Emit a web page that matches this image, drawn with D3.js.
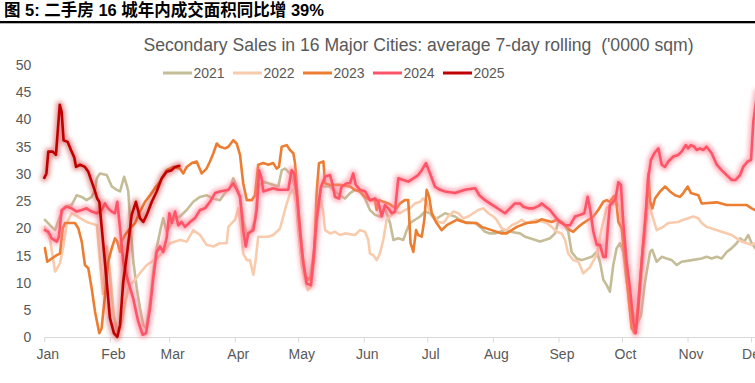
<!DOCTYPE html>
<html><head><meta charset="utf-8">
<script src="https://cdn.jsdelivr.net/npm/d3@7/dist/d3.min.js"></script>
<style>body{margin:0;background:#fff;}svg{display:block;}</style>
</head><body>
<svg id="c" width="755" height="383"></svg>
<script>
// ---------- data ----------
const figTitle = "图 5: 二手房 16 城年内成交面积同比增 39%";
const chartTitle = "Secondary Sales in 16 Major Cities: average 7-day rolling  ('0000 sqm)";
const months = ["Jan","Feb","Mar","Apr","May","Jun","Jul","Aug","Sep","Oct","Nov","Dec"];
const monthStarts = [0,31,59,90,120,151,181,212,243,273,304,334]; // day of year
const yTickValues = [0,5,10,15,20,25,30,35,40,45,50];
const seriesNames = ["2021","2022","2023","2024","2025"];
const seriesColors = ["#c5bd98","#f8cbad","#ed7d31","#ff5468","#c00000"];

// [day of year, value ('0000 sqm)]
const s2021 = [[0.3,21.6],[2.7,20.6],[5.1,19.7],[7.4,22.2],[9.8,24],[12.9,24.3],[15.3,26.1],[17.7,25.8],[20,25.2],[22.4,25.8],[24,27.1],[24.8,29.2],[26.3,30.1],[29.5,29.8],[31.9,27.7],[34.2,27.1],[35.8,26.8],[37.7,29.5],[38.9,28],[39.7,26.8],[40.8,20],[42.1,13.9],[43.7,9],[45.2,5.4],[46.8,2.3],[48.1,1.7],[50,6.6],[51.5,12.1],[53.1,16.4],[55,20],[56.2,21.9],[57.8,19.4],[59.4,20.3],[61,21.6],[64.1,22.2],[67.3,23.4],[70.4,24.9],[73.6,25.8],[76.7,26.1],[79.9,25.5],[83,25.2],[85.4,26.5],[87.7,27.4],[89.3,29.2],[90.9,27.7],[92.5,25.8],[94,21.6],[95.7,18.8],[98,19.7],[99.6,21.6],[101.1,27.7],[103.5,28.6],[105.9,28.3],[110.6,27.7],[112.2,30.7],[113.8,31],[116.9,29.8],[118.5,27.7],[120,20],[121.8,13],[124,10.6],[125.6,11],[127.5,16],[129.1,24],[130.8,27.7],[135,27.7],[137.4,26.8],[139.7,26.1],[142.1,25.5],[144.5,26.5],[146.8,27.1],[149.2,26.8],[151.6,25.5],[153.9,23.4],[156.3,22.5],[158.6,22.2],[161,23.7],[163.4,21],[165,17.9],[167.3,18.2],[169.7,17.9],[171.3,19.7],[172.8,21],[175.2,21.6],[177.6,22.2],[179.9,23.1],[182.3,22.8],[184.6,21.6],[187,22.2],[189.4,22.8],[191.7,22.5],[194.1,22.2],[196.5,21.6],[198.8,21.2],[203.6,21],[205.9,20.3],[208.3,19.4],[210.6,19.1],[213,19.1],[215.4,19.4],[217.7,19.7],[220.1,19.4],[224.8,19.1],[227.2,18.5],[229.5,18.2],[234.3,17.6],[236.6,17.9],[239,18.2],[241.4,19.1],[242.9,21.2],[245.3,21],[247.6,19.5],[249.2,15.7],[251.6,14.5],[254,14.2],[258.7,14.8],[261.1,15.7],[262.6,13.9],[264.2,10.6],[265.8,9.6],[267.3,8.4],[268.9,13.3],[270.5,16.4],[272.1,17.3],[273.6,15.7],[275.2,10.2],[277.6,5.4],[280,2.3],[282,4.1],[283.9,10.2],[286.3,15.7],[287.3,16.1],[289.4,13.9],[291.8,14.8],[294.1,14.5],[296.5,14.2],[298.9,13.3],[301.2,13.9],[306,14.2],[310.7,14.5],[313,14.8],[315.4,14.5],[317.8,14.8],[320.1,14.5],[322.5,15.7],[324.9,16.4],[327.2,17.3],[328.8,18.2],[330.8,17.6],[332.7,18.8],[334.3,17.3],[335.9,16.4],[337,16]];

const s2022 = [[0.3,20.3],[2.7,18],[5.1,12.1],[7.4,13.6],[9,16.7],[10.6,21],[12.9,22.8],[16.9,21.9],[20,21.2],[21.6,21],[24.8,20.6],[26.3,14],[27.7,8],[28.7,12],[29.6,16.7],[31,12],[32.9,4],[34.8,0.5],[36.7,3],[38.6,7],[40.5,9.8],[42.1,10.2],[45.2,11.8],[48.4,13.3],[53.1,14.5],[56.2,15.7],[59.4,17.3],[64.1,17.9],[67.3,17.6],[70.4,19.7],[73.6,18.8],[76.7,17],[79.9,16.7],[83,17.3],[86.2,17.3],[87,20.3],[88.6,21],[90.1,21.6],[91.7,23.7],[93,20.3],[94,15.4],[95.7,14.2],[97.2,14.2],[98.8,11.5],[99.9,14.2],[101.1,18.5],[105.9,18.5],[108.2,18.8],[109.8,19.4],[111.4,20],[112.9,22.2],[114.6,24.6],[116.1,26.4],[117.7,27.1],[119.3,24],[120.8,17.3],[122.4,11.8],[124.5,8.7],[126,9.3],[127.6,14.2],[129.2,22.8],[130.8,25.2],[131.9,22.8],[132.7,19.7],[135,19.1],[137.4,19.4],[139.7,18.8],[142.1,19.1],[146.8,18.8],[149.2,19.7],[151.6,19.4],[153.1,17.9],[153.9,15.4],[155.5,15.1],[157.1,14.2],[158.6,15.4],[160.2,17.9],[161.8,21.6],[163.4,22.2],[165.7,23.1],[168.1,22.8],[170.4,23.4],[172.8,23.7],[175.2,24.6],[177.6,24.9],[179.1,25.5],[180.7,24.9],[181.9,23.4],[183.8,22.5],[186.2,21.2],[188.6,21],[190.9,22.2],[193.3,23.1],[195.7,22.8],[198,21.9],[200.4,22.2],[202.7,22.8],[205.1,23.4],[207.5,23.7],[209.8,22.8],[212.2,22.2],[213.8,21.6],[216.2,20],[218.5,19.7],[220.9,20.6],[223.3,21],[225.6,21.6],[228,21],[232.7,21.6],[237.4,21],[239.8,20.3],[242.2,19.4],[244.5,19.1],[246.1,17.9],[247.6,15.4],[250,14.2],[252.4,13.9],[254.7,11.8],[257.9,12.9],[261.1,15.2],[263.4,20],[265.8,23.8],[268.1,24.3],[270.5,24.8],[272.1,24],[274.4,14],[276.8,5],[278.5,0.8],[280.1,2],[281.5,8],[283.4,16],[285.4,25],[289.4,19.7],[292.5,20.3],[294.9,21],[299.6,21.2],[302,21.6],[304.3,21.9],[306.7,22.2],[309.1,21.9],[310.7,21],[313,20.3],[315.4,20],[320.1,19.4],[324.9,18.8],[327.2,18.2],[329.6,17.6],[331.9,17.3],[334.3,17],[335.9,17.3],[337,17.5]];

const s2023 = [[0.3,16.4],[1.4,13.9],[3.5,14.5],[5.9,15.1],[7.4,15.4],[8.7,20],[9.8,21],[14.5,21],[16.1,20],[17.7,17.6],[19.2,13.3],[20.8,12.7],[22.4,9],[24,4.7],[26,0.8],[27.1,1.7],[28.7,7.8],[30.2,13.9],[31.9,16.4],[33.4,18.2],[34.5,17.6],[35.8,15.7],[36.6,17.6],[38.1,18.8],[40.5,20],[42.9,21],[45.2,23.1],[47.6,24.9],[50,26.1],[52.3,27.4],[54.7,28.6],[57.8,30.7],[61,31.3],[64.1,31],[65.7,30.1],[67.3,31.3],[69.7,32],[72,32.3],[74.4,30.1],[76.7,31],[78.3,32.3],[79.9,33.8],[81.5,35.6],[83,35],[85.4,34.7],[87,35],[89.3,36.2],[90.9,35.6],[92.5,33.5],[94,28.3],[95.7,25.2],[98,25.2],[99.6,26.1],[101.1,31.7],[103.5,32],[105.9,31.7],[108.2,32],[109.8,31],[110.9,31.3],[112.2,35],[114.6,35.3],[116.1,34.4],[117.7,33.8],[118.5,32],[120,24],[121.9,15.4],[123.5,11.2],[124.8,10.6],[126.4,11.2],[127.6,15.4],[128.7,26.4],[129.8,32],[131.9,32.3],[132.7,28.3],[135,28],[139.7,28],[144.5,27.7],[146.8,27.1],[149.2,26.8],[151.6,25.8],[153.9,25.2],[156.3,25.2],[157.1,23.4],[158.2,25.2],[160.2,24.9],[162.6,24.6],[164.9,24],[166.5,23.7],[168.1,24.6],[170.4,25.2],[172,25.2],[173.1,17.3],[174.4,15.7],[175.7,19.7],[176.7,18.8],[178.4,18.5],[179.6,21.6],[180.7,27.1],[181.9,25.8],[183.1,22.8],[185.4,21],[187.8,19.7],[190.2,20.6],[194.9,21.6],[199.6,21],[204.3,21],[206.7,20.3],[211.4,19.7],[216.2,19.1],[218.5,19.1],[220.9,19.7],[223.3,20.3],[228,21],[232.7,21.2],[235.1,21.7],[239.8,21.2],[242.2,21.6],[244.5,21.2],[246.9,20.3],[248.4,19.7],[250,19.4],[252.4,20.3],[254.7,21],[257.1,21.6],[259.5,22.2],[261.8,23.4],[264.2,24.9],[265.8,25.2],[267.3,24.9],[268.9,25.8],[270,26.1],[271.3,21.2],[272.9,20],[274.5,13.9],[276,7.8],[277.6,1.7],[279.2,0.8],[280.7,6.6],[282.6,15.1],[284.7,24.3],[285.5,30.1],[286.3,25],[287.4,23.7],[288.6,25.5],[291,26.8],[293.4,27.7],[295.7,26.8],[298.1,26.1],[300.4,25.8],[302,26.5],[304.1,27.7],[305.6,26.5],[309.1,26.1],[310.7,24.6],[317.8,24.8],[322.5,24.3],[332,24.3],[334.3,23.7],[335.9,23.4],[337,23.4]];

const s2024 = [[0.3,19.7],[1.9,19.4],[3.5,18.2],[5.9,17.6],[6.9,18.5],[8.2,23.4],[10.6,24],[12.9,23.7],[15.3,23.1],[17.7,23.4],[20,23.7],[22.4,23.1],[24.8,22.8],[27.1,23.4],[28.7,24.6],[30.2,23.7],[31.8,23.1],[33.4,22.8],[34.5,24.9],[35.8,20],[37.3,13.9],[39.7,10.2],[42,7.2],[44.4,2.9],[46.5,0.5],[48.1,0.8],[50,5.4],[51.5,10.9],[53.1,15.7],[54.7,16.7],[56.2,15.7],[57.8,18.2],[59.1,22.8],[60.2,21],[61.8,23.1],[63.3,20.6],[64.9,21.2],[66.5,20.3],[68.9,21.2],[71.2,21.9],[73.6,23.4],[75.9,23.7],[78.3,24.9],[80.7,26.5],[83,26.8],[87,27.1],[89.3,28.3],[90.9,27.2],[92.5,25.8],[94,19.7],[95.2,16.7],[96.4,19.1],[98.8,19.7],[100.4,23.4],[101.5,30.7],[102.7,29.2],[103.5,26.8],[105.9,27.1],[108.2,27.4],[110.6,27.1],[115.3,27.1],[116.9,30.7],[118.1,30.1],[119.3,26.4],[120.8,19.7],[122.4,13.6],[124,9.9],[126,9.6],[127.1,14.2],[128.7,21.6],[130.8,27.7],[132.7,29.5],[135,29.8],[136.1,28.3],[137.4,25.8],[139.3,25.5],[140.5,27.7],[142.9,28.3],[144.5,28.3],[146,30.1],[147.2,28],[149.2,27.1],[151.6,26.8],[153.9,25.2],[156.3,25.5],[157.8,24.9],[159.5,22.2],[161,24.3],[162.6,23.7],[164.2,22.8],[165.7,23.1],[167.3,29.2],[169.7,28.9],[172,28.6],[174.4,29.2],[176.7,29.8],[178.4,30.7],[180.4,32],[182.3,30.1],[184.6,27.7],[187,27.1],[189.4,26.8],[194.1,26.5],[198.8,27.1],[203.6,27.4],[205.6,26.1],[208.3,25.2],[210.6,24.6],[213,24],[215.4,23.4],[217.7,22.8],[220.1,23.7],[222.4,24.6],[224.8,24.6],[226.4,24],[228.7,23.7],[231.1,23.7],[233.5,24.1],[235.1,24.6],[236.6,24.1],[239,23.4],[241.4,22.2],[243.7,21.2],[246.1,20.6],[248.5,20.6],[250.8,22.2],[253.2,22.5],[255.2,22.8],[256.8,25.8],[257.9,23.7],[259.5,19.4],[261.1,17],[262.6,17],[264.2,14.8],[265.3,14.8],[266.3,20],[267.3,24.3],[268.9,24.9],[270,25.5],[271.3,28.5],[272.5,28],[273.6,21.2],[275.2,13.9],[276.8,9],[278.4,2.9],[279.5,0.8],[280.7,5.4],[282.3,13.9],[283.9,21.2],[285.4,29.2],[286.7,32.6],[288.3,33.8],[290.2,34.7],[291.8,31.7],[293.3,31.3],[294.9,32.3],[297.3,33.2],[299.6,33.5],[301.2,34.1],[303.1,35.3],[304.3,34.7],[305.6,35.3],[307.2,35],[308.3,34.4],[309.9,34.7],[311.4,34.4],[313,35],[315.4,33.8],[317.8,31.7],[320.1,30.7],[322.5,29.8],[324.9,28.9],[326.7,28.9],[328.8,29.8],[330.3,31.3],[332.4,32.3],[334,32.6],[335.1,39.6],[335.9,42],[337,45]];

const s2025 = [[0,29.3],[1,30.1],[1.9,34.1],[4,34.1],[5.5,33.5],[7.3,42.7],[8.2,41.4],[9.1,36.2],[11,35.9],[12.6,34.4],[14.2,33],[15,31.3],[16.9,31.7],[19.2,31.3],[20.8,30.4],[22.4,28.6],[24,26.8],[25,25.5],[26,24.9],[27.9,17],[29.5,10.2],[31,3.6],[32.9,0.8],[34.5,0.1],[35.8,2.3],[37.3,10.2],[39.2,15.7],[41.3,22.5],[43.3,24.9],[45.2,21.9],[46.8,21.2],[48.4,22.5],[50.8,24.9],[53.1,26.8],[55.5,29.2],[57.8,30.4],[60.2,30.7],[61.8,31.3],[63.8,31.5]];

const seriesData = [s2021, s2022, s2023, s2024, s2025];
const glowSeries = ["2024","2025"];

// ---------- drawing ----------
const W = 755, H = 383;
const font = "'Liberation Sans', Arial, 'Noto Sans CJK SC', sans-serif";
const grey = "#595959";
const svg = d3.select("#c");

const defs = svg.append("defs");
defs.append("filter").attr("id","blur").attr("x","-5%").attr("y","-20%").attr("width","110%").attr("height","140%")
  .append("feGaussianBlur").attr("stdDeviation", 2.3);
defs.append("clipPath").attr("id","clip").append("rect").attr("x",0).attr("y",0).attr("width",W).attr("height",H);

const x = d3.scaleLinear().domain([0, 364]).range([44.3, 814.5]);
const y = d3.scaleLinear().domain([0, 50]).range([337.5, 65]);

// Figure caption
svg.append("text").attr("x",4).attr("y",16)
  .attr("font-family","'Liberation Sans', Arial, 'Noto Sans CJK SC', sans-serif")
  .attr("font-weight","bold").attr("font-size",16.5).attr("fill","#000").text(figTitle);
svg.append("rect").attr("x",0).attr("y",21).attr("width",W).attr("height",2.3).attr("fill","#000");

// Chart title
svg.append("text").attr("x",418.5).attr("y",51).attr("text-anchor","middle")
  .style("white-space","pre")
  .attr("font-family",font).attr("font-size",17.6).attr("fill",grey).text(chartTitle);

// Legend
const leg = svg.append("g");
seriesNames.forEach((n,i)=>{
  const x0 = 163 + i*70;
  leg.append("line").attr("x1",x0).attr("x2",x0+29).attr("y1",73).attr("y2",73)
    .attr("stroke",seriesColors[i]).attr("stroke-width",3);
  leg.append("text").attr("x",x0+30.5).attr("y",73).attr("dy","0.35em")
    .attr("font-family",font).attr("font-size",14).attr("fill",grey).text(n);
});

// Y axis
const yAxis = svg.append("g").attr("transform","translate(44.3,0)")
  .call(d3.axisLeft(y).tickValues(yTickValues).tickSize(0).tickPadding(13));
yAxis.select(".domain").remove();
yAxis.selectAll("text").attr("font-family",font).attr("font-size",14).attr("fill",grey);

// X axis
const xAxis = svg.append("g").attr("transform","translate(0,337.5)")
  .call(d3.axisBottom(x).tickValues(monthStarts).tickFormat((d,i)=>months[i]).tickSize(5).tickPadding(7).tickSizeOuter(0));
xAxis.select(".domain").attr("stroke","#d9d9d9").attr("d", `M${x(0)},0H${W}`);
xAxis.selectAll(".tick line").attr("stroke","#d9d9d9");
xAxis.selectAll("text").attr("font-family",font).attr("font-size",14).attr("fill",grey).attr("dx",3);

// Lines
const line = d3.line().x(d=>x(d[0])).y(d=>y(d[1])).curve(d3.curveLinear);
const plot = svg.append("g").attr("clip-path","url(#clip)");
seriesNames.forEach((n,i)=>{
  const data = seriesData[i];
  if (glowSeries.includes(n)) {
    plot.append("path").datum(data).attr("d",line).attr("fill","none")
      .attr("stroke", n==="2024" ? "#ff7d90" : "#d03a3a")
      .attr("stroke-opacity", n==="2024" ? 0.6 : 0.5)
      .attr("stroke-width",7.5).attr("stroke-linejoin","round").attr("stroke-linecap","round")
      .attr("filter","url(#blur)");
  }
  plot.append("path").datum(data).attr("d",line).attr("fill","none")
    .attr("stroke",seriesColors[i]).attr("stroke-width",2.6)
    .attr("stroke-linejoin","round").attr("stroke-linecap","round");
});
</script>
</body></html>
